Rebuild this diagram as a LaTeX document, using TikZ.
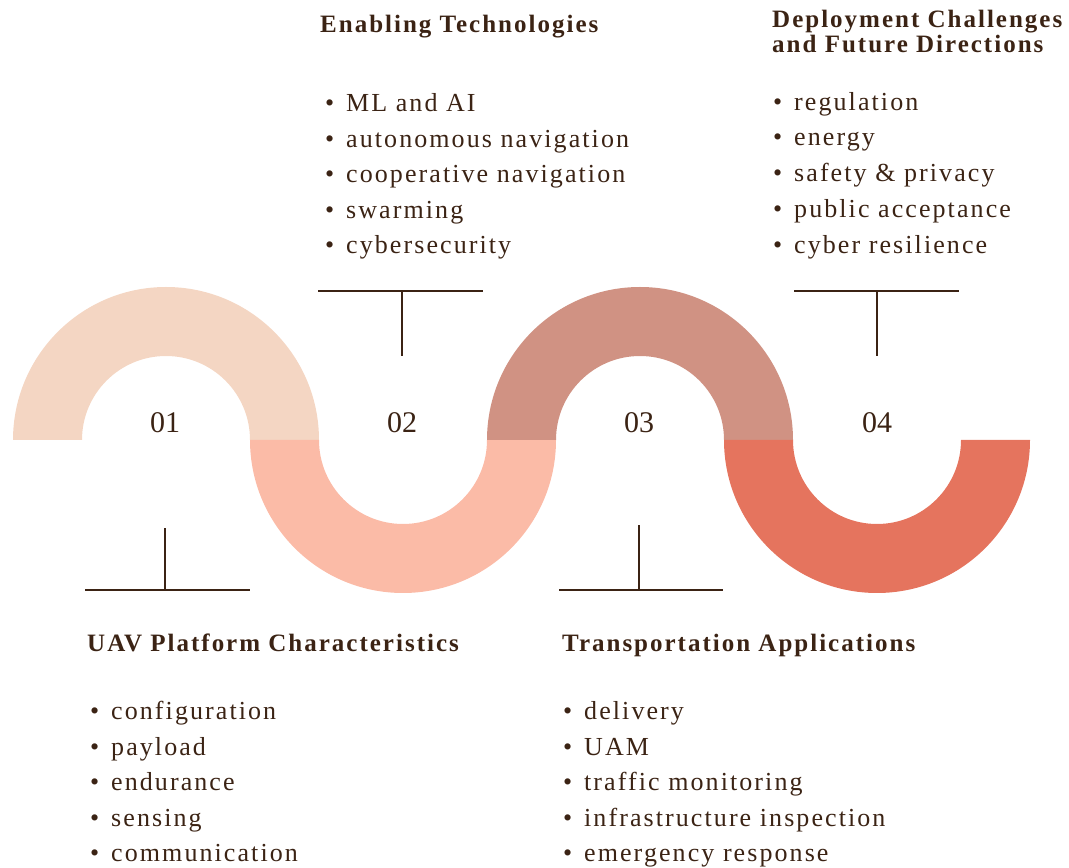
\documentclass[tikz,border=0pt]{standalone}
\usepackage{fontspec}
\setmainfont{Liberation Serif}
\newfontfamily\listfont[LetterSpace=8]{Liberation Serif}
\newfontfamily\headfont[LetterSpace=8]{Liberation Serif}

\definecolor{ink}{HTML}{3B2314}
\definecolor{wavea}{HTML}{F4D6C3}
\definecolor{waveb}{HTML}{FBBBA7}
\definecolor{wavec}{HTML}{D09283}
\definecolor{waved}{HTML}{E5745E}

\tikzset{
  head/.style={anchor=base west, inner sep=0pt, text=ink, font=\headfont\bfseries\fontsize{25}{28}\selectfont},
  item/.style={anchor=base west, inner sep=0pt, text=ink, font=\listfont\fontsize{26}{30}\selectfont},
  num/.style={anchor=base, inner sep=0pt, text=ink, font=\fontsize{30}{34}\selectfont},
  tbar/.style={draw=ink, line width=2.5pt},
}
\newcommand{\bul}{\makebox[21pt][l]{\textbullet}}

\begin{document}
\begin{tikzpicture}[x=1pt,y=1pt]
        \useasboundingbox (0,0) rectangle (1069,868);

        % Wave of half rings
        \foreach \cx/\col/\s in {166/wavea/-1,403/waveb/1,640/wavec/-1,877/waved/1}
            \fill[\col] (\cx-153,428) arc[start angle=180,delta angle=180*\s,radius=153]
                -- (\cx+84,428) arc[start angle=0,delta angle=-180*\s,radius=84] -- cycle;

        % Step numbers
        \node[num] (n1) at (165,435) {01};
        \node[num] (n2) at (402,435) {02};
        \node[num] (n3) at (639,435) {03};
        \node[num] (n4) at (877,435) {04};

        % T bars
        \draw[tbar] (318,577) -- (483,577) (402,577) -- (402,512);
        \draw[tbar] (794,577) -- (959,577) (877,577) -- (877,512);
        \draw[tbar] (85,278) -- (250,278) (165,278) -- (165,340);
        \draw[tbar] (559,278) -- (723,278) (639,278) -- (639,343);

        % Enabling technologies
        \node[head] (h2) at (320,835) {Enabling Technologies};
        \foreach \t [count=\k] in {ML and AI,autonomous navigation,cooperative navigation,swarming,cybersecurity}
            \node[item] (tech\k) at (325,791.5-35.5*\k) {\bul\t};

        % Deployment challenges
        \node[head] (h4a) at (772,840) {Deployment Challenges};
        \node[head] (h4b) at (772,815) {and Future Directions};
        \foreach \t [count=\k] in {regulation,energy,safety \& privacy,public acceptance,cyber resilience}
            \node[item] (dep\k) at (773,793.5-35.75*\k) {\bul\t};

        % UAV platform
        \node[head] (h1) at (87,216) {UAV Platform Characteristics};
        \foreach \t [count=\k] in {configuration,payload,endurance,sensing,communication}
            \node[item] (uav\k) at (90,183.5-35.5*\k) {\bul\t};

        % Transportation applications
        \node[head] (h3) at (562,216) {Transportation Applications};
        \foreach \t [count=\k] in {delivery,UAM,traffic monitoring,infrastructure inspection,emergency response}
            \node[item] (app\k) at (563,183.5-35.5*\k) {\bul\t};
    \end{tikzpicture}
\end{document}
